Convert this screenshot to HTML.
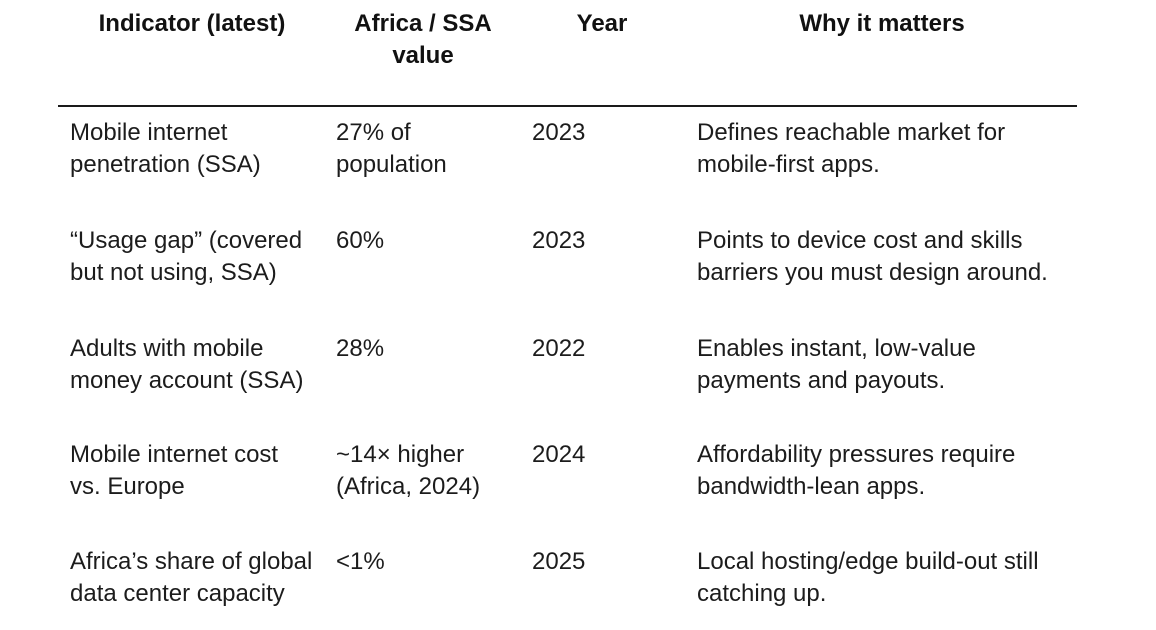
<!DOCTYPE html>
<html>
<head>
<meta charset="utf-8">
<style>
  html, body { margin:0; padding:0; background:#ffffff; }
  body { width:1156px; height:630px; position:relative; overflow:hidden;
         font-family:"Liberation Sans", Arial, sans-serif; color:#1c1c1c; }
  .t { position:absolute; font-size:24px; line-height:32px; white-space:nowrap; }
  .h { font-weight:bold; text-align:center; color:#111; }
  .rule { position:absolute; left:58px; width:1019px; top:105px; height:2px; background:#1a1a1a; }
</style>
</head>
<body>
  <!-- header -->
  <div class="t h" style="left:92px; width:200px; top:7.7px;">Indicator (latest)</div>
  <div class="t h" style="left:323px; width:200px; top:7.7px;">Africa / SSA<br>value</div>
  <div class="t h" style="left:552px; width:100px; top:7.7px;">Year</div>
  <div class="t h" style="left:782px; width:200px; top:7.7px;">Why it matters</div>

  <div class="rule"></div>

  <!-- row 1 -->
  <div class="t" style="left:70px; top:117.2px;">Mobile internet<br>penetration (SSA)</div>
  <div class="t" style="left:336px; top:117.2px;">27% of<br>population</div>
  <div class="t" style="left:532px; top:117.2px;">2023</div>
  <div class="t" style="left:697px; top:117.2px;">Defines reachable market for<br>mobile-first apps.</div>

  <!-- row 2 -->
  <div class="t" style="left:70px; top:224.7px;">“Usage gap” (covered<br>but not using, SSA)</div>
  <div class="t" style="left:336px; top:224.7px;">60%</div>
  <div class="t" style="left:532px; top:224.7px;">2023</div>
  <div class="t" style="left:697px; top:224.7px;">Points to device cost and skills<br>barriers you must design around.</div>

  <!-- row 3 -->
  <div class="t" style="left:70px; top:333px;">Adults with mobile<br>money account (SSA)</div>
  <div class="t" style="left:336px; top:333px;">28%</div>
  <div class="t" style="left:532px; top:333px;">2022</div>
  <div class="t" style="left:697px; top:333px;">Enables instant, low-value<br>payments and payouts.</div>

  <!-- row 4 -->
  <div class="t" style="left:70px; top:439px;">Mobile internet cost<br>vs. Europe</div>
  <div class="t" style="left:336px; top:439px;">~14× higher<br>(Africa, 2024)</div>
  <div class="t" style="left:532px; top:439px;">2024</div>
  <div class="t" style="left:697px; top:439px;">Affordability pressures require<br>bandwidth-lean apps.</div>

  <!-- row 5 -->
  <div class="t" style="left:70px; top:546.3px;">Africa’s share of global<br>data center capacity</div>
  <div class="t" style="left:336px; top:546.3px;">&lt;1%</div>
  <div class="t" style="left:532px; top:546.3px;">2025</div>
  <div class="t" style="left:697px; top:546.3px;">Local hosting/edge build-out still<br>catching up.</div>
</body>
</html>
